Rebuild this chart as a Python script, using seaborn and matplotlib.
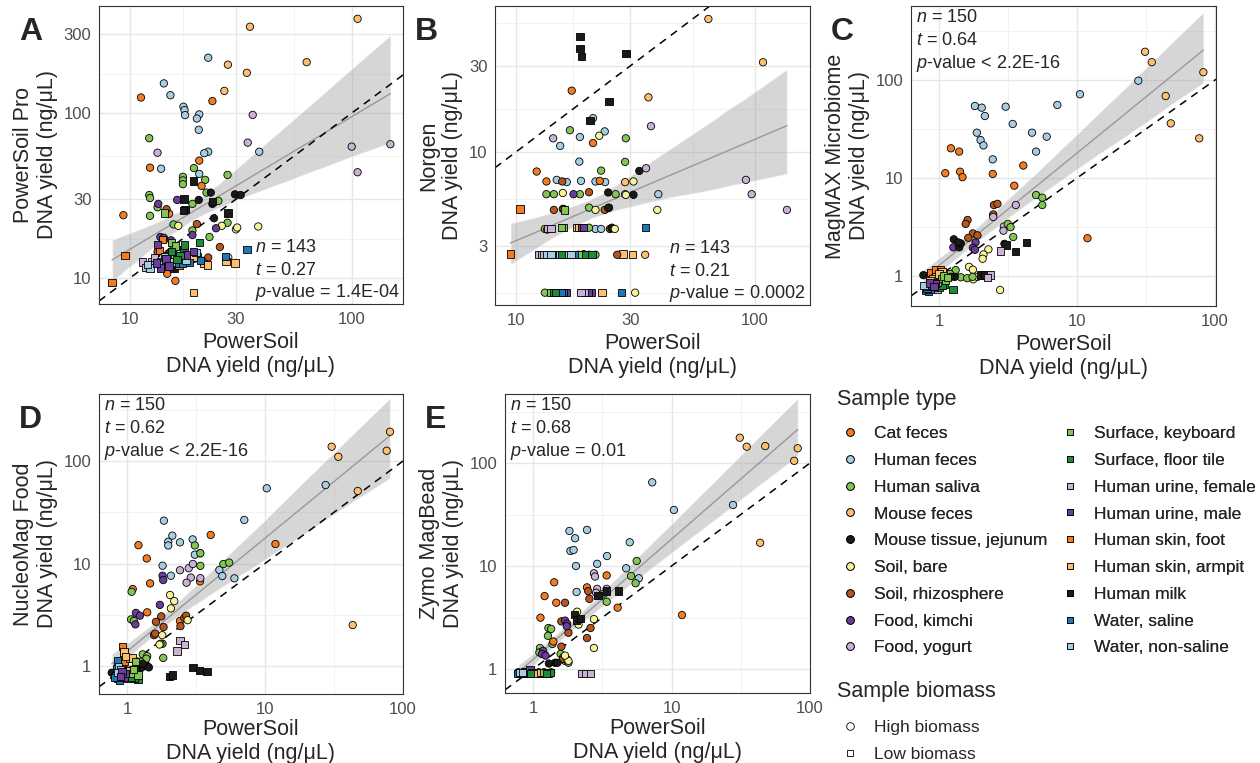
import numpy as np
import pandas as pd
import matplotlib
matplotlib.use("Agg")
import matplotlib.pyplot as plt
from matplotlib.lines import Line2D
import seaborn as sns

sns.set_style("white")
plt.rcParams['font.family'] = ['Liberation Sans', 'DejaVu Sans']
plt.rcParams['mathtext.fontset'] = 'custom'
plt.rcParams['mathtext.rm'] = 'Liberation Sans'
plt.rcParams['mathtext.it'] = 'Liberation Sans:italic'

#%% sample types
type_codes = ['CF', 'HF', 'HS', 'MF', 'MT', 'SB', 'SR', 'FK', 'FY',
              'KB', 'FT', 'UF', 'UM', 'SF', 'SA', 'HM', 'WS', 'WN']
type_labels = ['Cat feces', 'Human feces', 'Human saliva', 'Mouse feces',
               'Mouse tissue, jejunum', 'Soil, bare', 'Soil, rhizosphere',
               'Food, kimchi', 'Food, yogurt', 'Surface, keyboard',
               'Surface, floor tile', 'Human urine, female', 'Human urine, male',
               'Human skin, foot', 'Human skin, armpit', 'Human milk',
               'Water, saline', 'Water, non-saline']
type_colors = ['#F47B20', '#A6CEE3', '#82C553', '#FDBF6F', '#1A1A1A', '#F7F39A',
               '#B5561E', '#6A3D9A', '#CAB2D6', '#82C553', '#1E8B3C', '#CAB2D6',
               '#6A3D9A', '#F47B20', '#FDBF6F', '#1A1A1A', '#1F78B4', '#A6CEE3']
type_biomass = ['High'] * 9 + ['Low'] * 9

#%% data (PowerSoil yield, other kit yield), ng/uL
panel_a = [
    ('MF', 106, 372), ('MF', 34.7, 333), ('MF', 62.5, 203), ('MF', 27.6, 196), ('MF', 33.6, 175), ('MF', 26.6, 136),
    ('HF', 22.5, 216), ('HF', 14.2, 151), ('HF', 15.2, 128), ('HF', 17.4, 109), ('HF', 17.6, 104), ('HF', 17.7, 97),
    ('HF', 20.5, 98), ('HF', 20.0, 92.5), ('HF', 20.4, 79), ('HF', 22.5, 58.2), ('HF', 21.6, 57), ('HF', 13.8, 45.9),
    ('HF', 20.5, 42.7), ('HF', 38.2, 58.2),
    ('FY', 13.3, 57.4), ('FY', 35.7, 97.3), ('FY', 33.9, 66.1), ('FY', 99.7, 62.5), ('FY', 149, 64.6), ('FY', 106, 43.7),
    ('HS', 12.2, 70.3), ('HS', 19.4, 46.3), ('HS', 17.3, 41), ('HS', 17.3, 39), ('HS', 17.3, 37), ('HS', 21.8, 39.3),
    ('HS', 27.5, 42.1), ('HS', 12.2, 31.8), ('HS', 12.3, 30.5), ('HS', 22.1, 32.9), ('HS', 25.0, 29.3), ('HS', 19.1, 28.1),
    ('HS', 13.3, 26.8), ('HS', 12.3, 23.8), ('HS', 15.7, 21.1), ('HS', 27.5, 21.6), ('HS', 19.1, 19.4), ('HS', 22.8, 17.7),
    ('CF', 11.2, 124), ('CF', 23.5, 118), ('CF', 12.3, 46.6), ('CF', 20.5, 51.4), ('CF', 21.0, 36.1), ('CF', 9.33, 24.0),
    ('CF', 14.7, 10.6), ('CF', 16.0, 9.6), ('CF', 15.0, 24.5),
    ('SR', 14.6, 26.1), ('SR', 20.0, 21.2), ('SR', 25.4, 15.4), ('SR', 22.5, 13.3), ('SR', 13.3, 14.4), ('SR', 14.9, 13.9),
    ('SR', 17.0, 12.6),
    ('MT', 23.1, 32.9), ('MT', 29.7, 32.1), ('MT', 31.5, 31.8), ('MT', 20.4, 29.7), ('MT', 23.5, 28.1), ('MT', 23.9, 23.0),
    ('HM', 17.5, 30.1), ('HM', 19.3, 38.7), ('HM', 17.7, 26.1), ('HM', 17.4, 25.7), ('HM', 23.5, 29.0), ('HM', 27.6, 24.7),
    ('HM', 15.8, 11.4),
    ('SB', 16.5, 20.7), ('SB', 25.9, 20.7), ('SB', 30.0, 19.7), ('SB', 30.4, 20.2), ('SB', 37.8, 20.5), ('SB', 21.2, 12.7),
    ('SB', 27.7, 13.3), ('SB', 19.6, 13.1),
    ('FK', 13.4, 28.1), ('FK', 16.3, 29.7), ('FK', 19.1, 18.2), ('FK', 24.4, 20.0), ('FK', 13.7, 17.7), ('FK', 14.2, 17.5),
    ('FK', 13.6, 11.9), ('FK', 16.5, 14.2), ('FK', 15.3, 16.9),
    ('SF', 8.3, 9.4), ('SF', 9.5, 13.7), ('SF', 14.0, 17.1), ('SF', 14.6, 13.7), ('SF', 15.4, 13.8), ('SF', 20.0, 13.5),
    ('SF', 13.6, 14.7), ('SF', 18.7, 13.1), ('SF', 16.6, 12.0),
    ('SA', 19.3, 8.15), ('SA', 29.7, 12.3), ('SA', 27.1, 12.6), ('SA', 19.3, 13.3), ('SA', 21.4, 12.2), ('SA', 15.9, 13.0),
    ('SA', 22.3, 12.0),
    ('WS', 33.7, 14.9), ('WS', 27.0, 13.5), ('WS', 18.4, 12.4), ('WS', 16.1, 12.2), ('WS', 14.6, 12.4), ('WS', 14.0, 12.0),
    ('WS', 17.2, 12.3), ('WS', 20.8, 12.7),
    ('UF', 11.4, 12.5), ('UF', 12.5, 12.5), ('UF', 12.9, 13.3), ('UF', 11.8, 11.6), ('UF', 12.2, 12.0),
    ('WN', 12.3, 11.5), ('WN', 13.7, 12.6), ('WN', 16.8, 14.9), ('WN', 15.4, 12.5), ('WN', 12.0, 12.1), ('WN', 14.3, 13.4),
    ('WN', 17.9, 12.8), ('WN', 19.8, 14.2),
    ('UM', 13.7, 11.5), ('UM', 17.5, 14.9), ('UM', 19.3, 14.5), ('UM', 14.5, 13.0), ('UM', 13.2, 12.3), ('UM', 15.0, 11.8),
    ('UM', 18.0, 13.8), ('UM', 13.3, 16.0),
    ('KB', 14.3, 24.7), ('KB', 15.4, 16.4), ('KB', 16.0, 15.6),
    ('FT', 20.5, 16.4), ('FT', 16.8, 13.7), ('FT', 15.4, 14.5), ('FT', 16.3, 12.9), ('FT', 17.6, 15.8),
]

panel_b = [
    ('MF', 63.8, 54.8), ('MF', 108, 31.5), ('MF', 35.8, 20.1), ('MF', 28.6, 6.79), ('MF', 34.7, 2.68), ('MF', 28.6, 5.82),
    ('SA', 28.0, 2.71), ('SA', 30.7, 2.68), ('SA', 22.9, 1.65), ('SA', 17.9, 3.79), ('SA', 17.9, 2.7), ('SA', 18.2, 3.79),
    ('HF', 21.0, 15.4), ('HF', 23.5, 13.0), ('HF', 18.5, 12.1), ('HF', 15.3, 10.8), ('HF', 18.4, 8.83), ('HF', 14.8, 6.99),
    ('HF', 16.3, 6.8), ('HF', 18.7, 6.9), ('HF', 21.5, 6.85), ('HF', 23.6, 6.8), ('HF', 39.4, 5.82), ('HF', 21.5, 3.73),
    ('HF', 22.7, 3.73),
    ('HS', 16.8, 13.2), ('HS', 28.8, 11.9), ('HS', 28.6, 8.8), ('HS', 22.7, 7.87), ('HS', 13.4, 5.82), ('HS', 14.4, 5.82),
    ('HS', 18.5, 5.82), ('HS', 26.1, 5.82), ('HS', 20.2, 4.9), ('HS', 13.2, 3.73), ('HS', 20.2, 3.79), ('HS', 13.2, 1.65),
    ('HS', 25.2, 3.79), ('HS', 18.2, 2.68), ('HS', 20.2, 2.68), ('HS', 21.5, 2.68), ('HS', 19.2, 2.7), ('HS', 13.5, 3.7),
    ('CF', 17.1, 21.9), ('CF', 21.0, 11.2), ('CF', 12.2, 7.78), ('CF', 13.4, 6.85), ('CF', 22.4, 6.9), ('CF', 15.7, 4.82),
    ('SF', 9.48, 2.71), ('SF', 10.4, 4.82),
    ('SR', 15.6, 6.85), ('SR', 20.2, 5.97), ('SR', 14.4, 4.76), ('SR', 15.8, 4.82), ('SR', 23.5, 4.76), ('SR', 24.3, 4.88),
    ('SR', 24.7, 3.73), ('SR', 26.5, 2.68),
    ('MT', 32.8, 7.84), ('MT', 24.3, 5.95), ('MT', 31.0, 5.77), ('MT', 24.5, 4.9), ('MT', 25.1, 3.76),
    ('HM', 18.5, 43.7), ('HM', 18.5, 37.7), ('HM', 18.8, 33.9), ('HM', 28.8, 35.3), ('HM', 24.5, 19.0), ('HM', 20.4, 14.9),
    ('SB', 22.3, 12.3), ('SB', 15.7, 5.91), ('SB', 28.8, 5.77), ('SB', 31.0, 6.85), ('SB', 39.0, 4.76), ('SB', 21.5, 4.76),
    ('SB', 25.9, 3.73), ('SB', 31.5, 1.65),
    ('FK', 17.4, 5.82),
    ('UM', 18.8, 3.79), ('UM', 14.5, 2.7), ('UM', 20.6, 1.65), ('UM', 16.3, 1.65), ('UM', 14.9, 2.7), ('UM', 20.0, 1.65),
    ('UM', 19.1, 3.79),
    ('FY', 14.3, 11.9), ('FY', 36.7, 13.9), ('FY', 35.0, 8.11), ('FY', 91.6, 6.99), ('FY', 96.8, 5.82), ('FY', 136, 4.76),
    ('KB', 16.0, 4.76), ('KB', 15.7, 3.79), ('KB', 18.5, 2.7), ('KB', 14.0, 1.65), ('KB', 15.5, 3.79),
    ('UF', 13.6, 3.76), ('UF', 12.4, 2.7), ('UF', 13.9, 2.7), ('UF', 19.4, 1.65), ('UF', 12.8, 2.7), ('UF', 13.1, 2.7),
    ('UF', 18.7, 1.65), ('UF', 14.0, 3.76),
    ('WS', 34.9, 3.79), ('WS', 16.8, 2.7), ('WS', 17.5, 2.7), ('WS', 15.7, 1.65), ('WS', 27.7, 1.65), ('WS', 16.5, 2.7),
    ('WS', 15.9, 2.7), ('WS', 15.4, 1.65),
    ('WN', 13.4, 2.7), ('WN', 16.2, 2.7), ('WN', 15.2, 2.7), ('WN', 14.0, 2.7), ('WN', 17.0, 2.7),
    ('FT', 14.4, 1.65), ('FT', 15.5, 2.7), ('FT', 19.6, 2.7), ('FT', 20.8, 2.7), ('FT', 14.6, 1.65),
]

panel_c = [
    ('MF', 31.1, 194), ('MF', 34.8, 152), ('MF', 82.3, 120), ('MF', 43.9, 68.7), ('MF', 47.8, 36.1), ('MF', 76.8, 25.4),
    ('HF', 27.8, 98.4), ('HF', 10.5, 71.5), ('HF', 7.2, 55.6), ('HF', 1.82, 54.3), ('HF', 2.04, 52.2), ('HF', 3.04, 53.4),
    ('HF', 2.15, 42.9), ('HF', 3.42, 35.6), ('HF', 1.88, 29.0), ('HF', 4.72, 29.0), ('HF', 2.0, 24.4), ('HF', 2.1, 21.5),
    ('HF', 6.03, 26.4), ('HF', 5.05, 18.6), ('HF', 2.45, 15.5),
    ('CF', 1.22, 20.1), ('CF', 1.40, 18.6), ('CF', 1.11, 11.2), ('CF', 1.42, 11.6), ('CF', 1.48, 10.2), ('CF', 2.45, 11.0),
    ('CF', 4.08, 13.4), ('CF', 3.51, 8.35), ('CF', 11.9, 2.43),
    ('SR', 2.5, 5.3), ('SR', 2.65, 5.45), ('SR', 1.61, 3.73), ('SR', 1.56, 3.4), ('SR', 2.47, 4.25), ('SR', 1.76, 2.72),
    ('SR', 1.9, 2.6), ('SR', 1.63, 2.45),
    ('SB', 2.28, 1.87), ('SB', 2.1, 1.66), ('SB', 2.07, 1.5), ('SB', 1.65, 1.24), ('SB', 1.76, 1.16), ('SB', 1.77, 0.925),
    ('SB', 2.77, 0.72), ('SB', 1.9, 0.98),
    ('FK', 1.27, 1.96), ('FK', 1.84, 2.2), ('FK', 1.76, 1.94), ('FK', 1.82, 1.85),
    ('FY', 3.6, 5.3), ('FY', 2.95, 3.2), ('FY', 2.93, 2.9), ('FY', 2.47, 4.0),
    ('HS', 5.05, 6.7), ('HS', 5.6, 6.3), ('HS', 5.6, 5.3), ('HS', 3.15, 3.4), ('HS', 3.3, 3.15), ('HS', 3.45, 2.5),
    ('HS', 1.3, 1.1), ('HS', 1.32, 1.15), ('HS', 1.44, 0.97), ('HS', 1.6, 0.95), ('HS', 1.75, 0.98), ('HS', 1.12, 1.02),
    ('HS', 1.2, 1.05),
    ('MT', 1.28, 2.37), ('MT', 1.4, 1.96), ('MT', 1.44, 2.15), ('MT', 0.77, 1.02), ('MT', 1.3, 0.98), ('MT', 2.98, 2.13),
    ('MT', 1.22, 0.98), ('MT', 1.38, 2.2),
    ('HM', 3.06, 2.07), ('HM', 3.58, 1.77), ('HM', 4.32, 2.19), ('HM', 2.0, 1.02), ('HM', 2.15, 1.02),
    ('UF', 2.78, 1.8), ('UF', 2.35, 1.02), ('UF', 2.25, 0.96), ('UF', 0.9, 0.78), ('UF', 0.95, 0.8), ('UF', 0.97, 0.74),
    ('FT', 1.26, 0.73), ('FT', 1.0, 0.76), ('FT', 1.1, 0.82), ('FT', 1.05, 0.8),
    ('WS', 0.8, 0.72), ('WS', 0.84, 0.7), ('WS', 0.86, 0.74), ('WS', 0.82, 0.75),
    ('SF', 0.85, 1.0), ('SF', 0.88, 0.95), ('SF', 0.96, 1.12), ('SF', 0.98, 1.02), ('SF', 0.9, 0.88), ('SF', 1.0, 0.92),
    ('SF', 0.92, 1.05), ('SF', 0.87, 1.08), ('SF', 0.94, 1.17), ('SF', 1.03, 1.15), ('SF', 0.97, 0.95),
    ('SA', 0.93, 0.96), ('SA', 1.02, 1.02), ('SA', 0.96, 0.86), ('SA', 1.05, 1.1), ('SA', 0.95, 0.98), ('SA', 0.9, 0.93),
    ('SA', 1.0, 1.05), ('SA', 0.86, 0.9), ('SA', 1.07, 0.9),
    ('KB', 0.98, 0.86), ('KB', 1.05, 0.95), ('KB', 1.12, 0.9), ('KB', 1.08, 1.0), ('KB', 1.15, 0.97),
    ('WN', 0.82, 0.78), ('WN', 0.9, 0.83), ('WN', 0.78, 0.8),
    ('UM', 0.88, 0.8), ('UM', 0.94, 0.84), ('UM', 0.85, 0.85), ('UM', 0.92, 0.78),
]

panel_d = [
    ('MF', 80.5, 193), ('MF', 30.4, 138), ('MF', 34.0, 110), ('MF', 76.2, 126), ('MF', 47.0, 51), ('MF', 43.2, 2.51),
    ('HF', 27.5, 58.3), ('HF', 10.3, 54.2), ('HF', 7.08, 26.6), ('HF', 1.85, 26.2), ('HF', 2.13, 18.7), ('HF', 1.99, 16.3),
    ('HF', 1.99, 15.0), ('HF', 2.42, 16.1), ('HF', 2.99, 17.2), ('HF', 3.38, 12.6), ('HF', 1.81, 9.52), ('HF', 2.08, 7.6),
    ('HF', 4.67, 8.64), ('HF', 4.9, 7.55), ('HF', 6.0, 7.17), ('HF', 3.1, 12.2),
    ('CF', 1.21, 15.1), ('CF', 1.39, 11.2), ('CF', 4.04, 19.0), ('CF', 11.9, 15.5), ('CF', 1.47, 6.4), ('CF', 1.1, 5.64),
    ('CF', 1.4, 3.34), ('CF', 3.38, 6.7), ('CF', 2.42, 2.75),
    ('SR', 1.62, 2.7), ('SR', 1.77, 3.05), ('SR', 1.84, 2.4), ('SR', 1.57, 2.0), ('SR', 1.6, 2.07), ('SR', 2.44, 2.45),
    ('SR', 2.6, 2.95), ('SR', 2.68, 3.1),
    ('HS', 3.1, 15.0), ('HS', 3.4, 12.6), ('HS', 3.4, 9.5), ('HS', 4.99, 9.89), ('HS', 5.5, 10.2), ('HS', 1.08, 5.3),
    ('HS', 1.07, 2.85), ('HS', 1.81, 1.65), ('HS', 1.83, 1.2), ('HS', 1.3, 1.3), ('HS', 1.4, 1.25), ('HS', 1.12, 2.75),
    ('HS', 1.75, 1.65), ('HS', 1.38, 1.18), ('HS', 1.25, 1.1),
    ('FK', 1.81, 7.6), ('FK', 1.83, 6.9), ('FK', 1.73, 3.95), ('FK', 1.16, 3.3), ('FK', 1.24, 3.1), ('FK', 1.15, 2.55),
    ('FY', 2.42, 8.6), ('FY', 2.8, 9.0), ('FY', 3.0, 9.9), ('FY', 2.9, 7.3), ('FY', 2.7, 6.5), ('FY', 3.4, 7.2),
    ('SB', 2.05, 4.93), ('SB', 2.2, 4.3), ('SB', 2.08, 3.65), ('SB', 2.75, 2.8), ('SB', 1.72, 1.62), ('SB', 1.8, 2.0),
    ('MT', 0.775, 0.86), ('MT', 1.27, 0.96), ('MT', 1.4, 1.0), ('MT', 1.44, 0.97), ('MT', 1.08, 0.92), ('MT', 1.17, 0.94),
    ('MT', 0.82, 0.8), ('MT', 1.0, 0.9), ('MT', 1.3, 1.05),
    ('HM', 2.03, 0.79), ('HM', 2.13, 0.82), ('HM', 3.0, 0.97), ('HM', 3.35, 0.9), ('HM', 3.8, 0.88),
    ('UF', 2.42, 1.78), ('UF', 2.6, 1.62), ('UF', 2.3, 1.4), ('UF', 0.92, 0.82), ('UF', 0.95, 0.83),
    ('SF', 0.93, 1.55), ('SF', 0.95, 1.35), ('SF', 1.0, 0.75), ('SF', 0.98, 0.8), ('SF', 1.02, 0.82), ('SF', 0.96, 1.1),
    ('SA', 0.95, 1.37), ('SA', 1.05, 1.18), ('SA', 1.1, 1.2), ('SA', 1.05, 0.9), ('SA', 0.98, 1.23),
    ('WS', 0.85, 1.12), ('WS', 0.86, 0.75), ('WS', 0.83, 0.8), ('WS', 0.88, 0.72), ('WS', 0.84, 0.95), ('WS', 0.88, 0.85),
    ('WS', 0.82, 0.77),
    ('WN', 0.87, 0.98), ('WN', 0.9, 0.92), ('WN', 0.86, 0.87),
    ('FT', 1.2, 0.74), ('FT', 1.13, 0.76), ('FT', 1.08, 0.78),
    ('KB', 1.1, 0.85), ('KB', 1.15, 1.1), ('KB', 1.2, 0.82), ('KB', 1.12, 0.92),
    ('UM', 0.95, 0.78), ('UM', 0.97, 0.85), ('UM', 0.92, 0.88), ('UM', 0.9, 0.79),
]

panel_e = [
    ('MF', 31.1, 176), ('MF', 34.9, 144), ('MF', 47.5, 146), ('MF', 81.5, 139), ('MF', 76.9, 105), ('MF', 43.6, 16.8),
    ('HF', 7.25, 64.9), ('HF', 10.4, 35.0), ('HF', 27.8, 39.1), ('HF', 1.83, 21.9), ('HF', 2.45, 22.4), ('HF', 2.01, 18.6),
    ('HF', 1.86, 14.0), ('HF', 1.96, 14.3), ('HF', 4.99, 17.0), ('HF', 3.42, 12.5), ('HF', 2.04, 10.0), ('HF', 2.9, 10.5),
    ('HF', 4.7, 9.5), ('HF', 5.8, 7.6), ('HF', 2.06, 5.6),
    ('HS', 5.6, 11.2), ('HS', 5.1, 8.0), ('HS', 5.5, 6.8), ('HS', 3.25, 5.4), ('HS', 3.4, 4.5), ('HS', 1.29, 2.5),
    ('HS', 1.35, 2.45), ('HS', 1.28, 2.1), ('HS', 1.38, 1.75), ('HS', 1.12, 1.6), ('HS', 1.11, 1.45), ('HS', 1.58, 1.4),
    ('HS', 1.65, 1.3), ('HS', 1.7, 1.2), ('HS', 1.8, 1.15), ('HS', 1.1, 0.93),
    ('CF', 1.42, 6.95), ('CF', 1.21, 5.1), ('CF', 1.47, 4.4), ('CF', 1.13, 3.15), ('CF', 2.45, 6.2), ('CF', 3.4, 8.1),
    ('CF', 4.08, 3.94), ('CF', 11.9, 3.34), ('CF', 1.4, 1.85),
    ('SR', 1.7, 4.4), ('SR', 2.5, 5.7), ('SR', 2.55, 4.8), ('SR', 1.6, 2.9), ('SR', 1.8, 2.25), ('SR', 2.6, 2.5),
    ('SR', 2.45, 2.0), ('SR', 1.6, 1.65), ('SR', 1.65, 1.25),
    ('FK', 1.7, 2.95), ('FK', 1.76, 2.75), ('FK', 1.75, 2.6), ('FK', 1.18, 1.5), ('FK', 1.16, 1.4), ('FK', 1.23, 1.35),
    ('FY', 2.75, 8.5), ('FY', 2.8, 7.9), ('FY', 2.9, 6.0), ('FY', 3.4, 6.0), ('FY', 2.85, 5.5),
    ('SB', 2.08, 3.6), ('SB', 2.13, 2.7), ('SB', 2.75, 3.05), ('SB', 2.75, 1.6), ('SB', 1.75, 1.25), ('SB', 1.8, 1.2),
    ('SB', 1.7, 1.35),
    ('MT', 1.44, 1.15), ('MT', 1.5, 1.15), ('MT', 1.3, 1.13), ('MT', 0.78, 0.93), ('MT', 0.85, 0.93), ('MT', 1.2, 0.93),
    ('MT', 1.35, 0.93), ('MT', 0.9, 0.93), ('MT', 1.0, 0.93),
    ('HM', 2.95, 5.2), ('HM', 3.4, 5.7), ('HM', 4.15, 5.7), ('HM', 2.0, 3.4), ('HM', 2.05, 3.0), ('HM', 2.2, 3.1),
    ('UF', 2.25, 0.9), ('UF', 2.4, 0.9), ('UF', 2.6, 0.9), ('UF', 0.88, 0.95), ('UF', 0.92, 0.93),
    ('WS', 0.78, 0.91), ('WS', 0.83, 0.91), ('WS', 0.86, 0.9), ('WS', 0.8, 0.9), ('WS', 0.88, 0.9),
    ('UM', 0.875, 0.95), ('UM', 0.94, 0.91), ('UM', 0.9, 0.92), ('UM', 0.95, 0.98),
    ('WN', 0.8, 0.92), ('WN', 0.84, 0.92), ('WN', 1.0, 0.9),
    ('SF', 1.05, 0.91), ('SF', 1.16, 0.91), ('SF', 0.98, 0.92), ('SF', 1.1, 0.9),
    ('SA', 1.1, 0.92), ('SA', 1.2, 0.91), ('SA', 1.02, 0.91), ('SA', 1.13, 0.93),
    ('KB', 1.29, 0.91), ('KB', 1.2, 0.92),
    ('FT', 1.33, 0.92), ('FT', 0.96, 0.9), ('FT', 1.25, 0.9),
]

#%% panel settings
panel_letters = ['A', 'B', 'C', 'D', 'E']
panel_data = [panel_a, panel_b, panel_c, panel_d, panel_e]
panel_ylabels = ['PowerSoil Pro\nDNA yield (ng/μL)', 'Norgen\nDNA yield (ng/μL)',
                 'MagMAX Microbiome\nDNA yield (ng/μL)', 'NucleoMag Food\nDNA yield (ng/μL)',
                 'Zymo MagBead\nDNA yield (ng/μL)']
panel_xticks = [[10, 30, 100], [10, 30, 100], [1, 10, 100], [1, 10, 100], [1, 10, 100]]
panel_yticks = [[10, 30, 100, 300], [3, 10, 30], [1, 10, 100], [1, 10, 100], [1, 10, 100]]
panel_n = ['143', '143', '150', '150', '150']
panel_t = ['0.27', '0.21', '0.64', '0.62', '0.68']
panel_p = ['= 1.4E-04', '= 0.0002', '< 2.2E-16', '< 2.2E-16', '= 0.01']
# limits in log10 units
panel_xlim = [(0.86, 2.23), (0.912, 2.23), (-0.203, 2.007), (-0.203, 2.0), (-0.203, 2.0)]
panel_ylim = [(0.842, 2.648), (0.149, 1.811), (-0.306, 2.755), (-0.273, 2.654), (-0.233, 2.67)]
# axes boxes in pixels (left, top, right, bottom)
panel_box = [(99, 6, 403, 304), (495, 6, 810, 305), (911, 6, 1216, 306),
             (99, 394, 403, 694), (505, 394, 810, 693)]

W, H = 1260, 763
fig = plt.figure(figsize=(W / 100, H / 100), dpi=100)

pal = dict(zip(type_codes, type_colors))
bio = dict(zip(type_codes, type_biomass))

for i in range(5):
    l, t, r, b = panel_box[i]
    ax = fig.add_axes([l / W, 1 - b / H, (r - l) / W, (b - t) / H])
    df = pd.DataFrame(panel_data[i], columns=['code', 'x', 'y'])
    df['lx'] = np.log10(df.x)
    df['ly'] = np.log10(df.y)
    df['biomass'] = df.code.map(bio)

    ax.set_xlim(*panel_xlim[i])
    ax.set_ylim(*panel_ylim[i])

    # ggplot-like grid: majors + minor midpoints in log space
    xt = np.log10(panel_xticks[i])
    yt = np.log10(panel_yticks[i])
    xm = np.concatenate([[xt[0] - (xt[1] - xt[0]) / 2], (xt[:-1] + xt[1:]) / 2, [xt[-1] + (xt[-1] - xt[-2]) / 2]])
    ym = np.concatenate([[yt[0] - (yt[1] - yt[0]) / 2], (yt[:-1] + yt[1:]) / 2, [yt[-1] + (yt[-1] - yt[-2]) / 2]])
    for v in xm:
        ax.axvline(v, color='#F0F0F0', lw=0.6, zorder=0)
    for v in ym:
        ax.axhline(v, color='#F0F0F0', lw=0.6, zorder=0)
    for v in xt:
        ax.axvline(v, color='#E6E6E6', lw=1.0, zorder=0)
    for v in yt:
        ax.axhline(v, color='#E6E6E6', lw=1.0, zorder=0)

    sns.regplot(data=df, x='lx', y='ly', scatter=False, ax=ax, color='#999999',
                line_kws=dict(lw=1.0, zorder=2), seed=1, truncate=True)
    band = ax.collections[-1]
    band.set_facecolor('#999999')
    band.set_alpha(0.4)
    band.set_zorder(1)

    ax.axline((0, 0), slope=1, color='black', lw=1.1, ls=(0, (5, 4)), zorder=2.5)

    sns.scatterplot(data=df, x='lx', y='ly', hue='code', style='biomass', palette=pal,
                    markers={'High': 'o', 'Low': 's'}, s=28, edgecolor='black',
                    linewidth=0.6, legend=False, ax=ax, zorder=3)

    ax.set_xticks(xt)
    ax.set_xticklabels([str(v) for v in panel_xticks[i]])
    ax.set_yticks(yt)
    ax.set_yticklabels([str(v) for v in panel_yticks[i]])
    ax.tick_params(length=3, width=0.8, color='#333333', labelcolor='#4D4D4D',
                   labelsize=12, pad=2.5)
    ax.set_xlabel('PowerSoil\nDNA yield (ng/μL)', fontsize=15.5,
                  labelpad=4 if i < 3 else 1.5)
    ax.set_ylabel(panel_ylabels[i], fontsize=15.5, labelpad=4)
    for s in ax.spines.values():
        s.set_color('#333333')
        s.set_linewidth(0.8)

    if i < 2:
        tx = 0.513 if i == 0 else 0.552
        ys = [0.19, 0.112, 0.038]
    else:
        tx = 0.018
        ys = [0.962, 0.885, 0.807]
    ax.text(tx, ys[0], r'$n$ = ' + panel_n[i], transform=ax.transAxes, fontsize=13, va='center')
    ax.text(tx, ys[1], r'$t$ = ' + panel_t[i], transform=ax.transAxes, fontsize=13, va='center')
    ax.text(tx, ys[2], r'$p$-value ' + panel_p[i], transform=ax.transAxes, fontsize=13, va='center')

    fig.text((l - 80) / W, 1 - (t + 34) / H, panel_letters[i], fontsize=23,
             fontweight='bold', va='baseline', ha='left')

#%% legends
type_handles = [Line2D([], [], ls='', marker='o' if type_biomass[k] == 'High' else 's',
                       markersize=5.5 if type_biomass[k] == 'High' else 5,
                       markerfacecolor=type_colors[k], markeredgecolor='black',
                       markeredgewidth=0.6) for k in range(len(type_codes))]
fig.text(837 / W, 1 - 400 / H, 'Sample type', fontsize=15.5, va='center', ha='left')
leg1 = fig.legend(type_handles, type_labels, ncol=2,
                  loc='upper left', bbox_to_anchor=(837 / W, 1 - 426 / H),
                  frameon=False, fontsize=12.5, borderpad=0,
                  handlelength=1.5, handletextpad=0.63, columnspacing=0.58,
                  labelspacing=0.67, borderaxespad=0)
bio_handles = [Line2D([], [], ls='', marker='o', markersize=5.5, markerfacecolor='white',
                      markeredgecolor='black', markeredgewidth=0.6),
               Line2D([], [], ls='', marker='s', markersize=5, markerfacecolor='white',
                      markeredgecolor='black', markeredgewidth=0.6)]
fig.text(837 / W, 1 - 692 / H, 'Sample biomass', fontsize=15.5, va='center', ha='left')
fig.legend(bio_handles, ['High biomass', 'Low biomass'],
           loc='upper left', bbox_to_anchor=(837 / W, 1 - 720 / H),
           frameon=False, fontsize=12.5, borderpad=0,
           handlelength=1.5, handletextpad=0.63, labelspacing=0.67, borderaxespad=0)
fig.add_artist(leg1)

fig.savefig('out.png', dpi=100)
